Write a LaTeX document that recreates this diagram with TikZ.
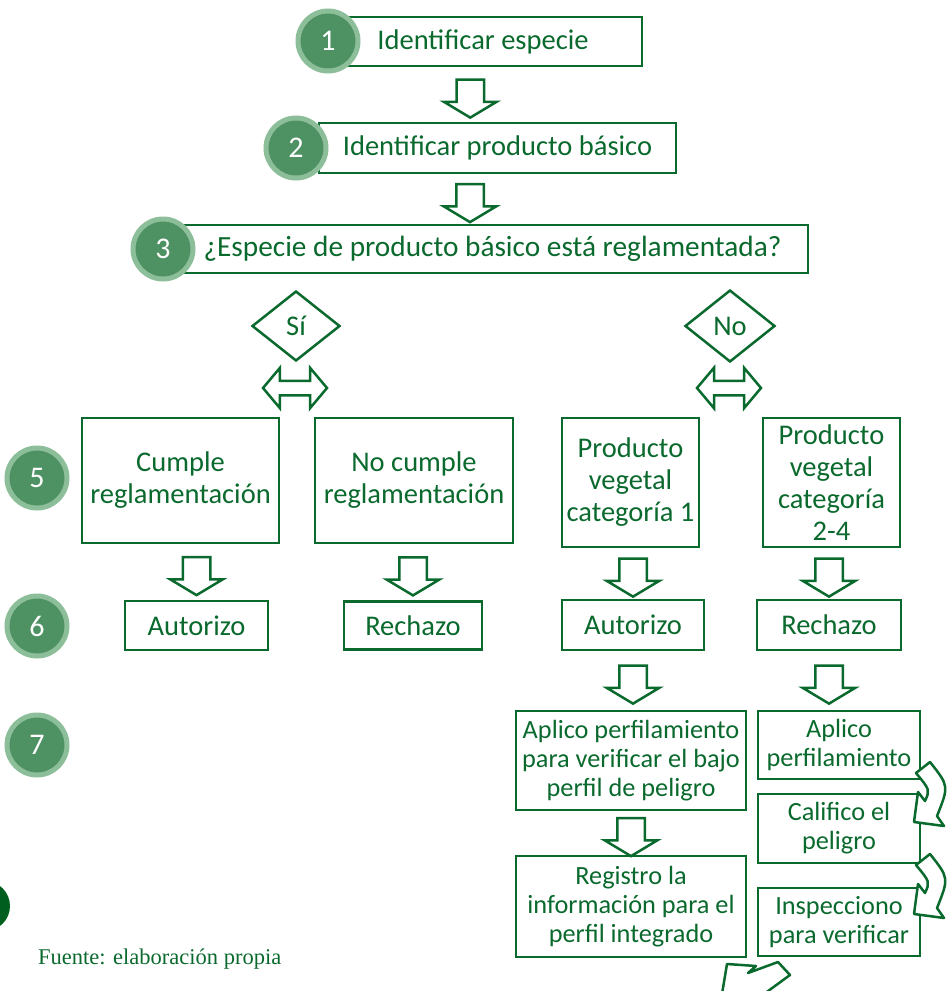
\documentclass[tikz,border=0pt]{standalone}
\usepackage{fontspec}
\setmainfont{Carlito}
\newfontfamily\fuentefont{Liberation Serif}
\usetikzlibrary{shapes.geometric,shapes.arrows,positioning,calc}
\definecolor{verde}{RGB}{10,105,45}
\definecolor{circfill}{RGB}{78,145,99}
\definecolor{circring}{RGB}{141,190,154}
\definecolor{verdeosc}{RGB}{0,95,30}
\tikzset
{
    paso/.style     = {rectangle, draw=verde, line width=2.5pt, text=verde, align=center, inner sep=0pt, font=\fontsize{28.5}{32}\selectfont},
    pasochico/.style= {paso, font=\fontsize{26.3}{29}\selectfont},
    numero/.style   = {circle, fill=circfill, draw=circring, line width=5pt, minimum size=60pt, inner sep=0pt, text=white, font=\fontsize{30}{30}\selectfont},
    decision/.style = {diamond, draw=verde, line width=2.5pt, text=verde, inner sep=0pt, minimum width=88pt, minimum height=70pt, font=\fontsize{28.5}{30}\selectfont},
    bajar/.style    = {single arrow, draw=verde, fill=white, line width=2.5pt, shape border rotate=270, inner sep=12.5pt, minimum height=38pt, minimum width=50pt, single arrow head extend=12.5pt, single arrow tip angle=118},
    ambos/.style    = {double arrow, draw=verde, fill=white, line width=2.5pt, inner sep=6pt, minimum height=64pt, minimum width=38pt, double arrow head extend=13pt, double arrow tip angle=100},
    curva/.pic      = {\draw[verde, fill=white, line width=2.5pt, line join=round] (-4,-6) -- (10,-17) .. controls (29,7) .. (17,37) -- (24,47) -- (-6,43) -- (-2,13) -- (5,22) .. controls (10,11) .. (-4,-6) -- cycle;}
}

\begin{document}
\begin{tikzpicture}[x=1pt, y=-1pt]
\useasboundingbox (0,0) rectangle (948,991);
% pasos superiores
\node[paso, minimum width=318pt, minimum height=49pt] (b1) at (483,41.5) {Identificar especie};
\node[paso, minimum width=357pt, minimum height=50pt] (b2) at (497.5,148) {Identificar producto básico};
\node[paso, minimum width=631pt, minimum height=48pt, font=\fontsize{29.3}{32}\selectfont] (b3) at (492.5,249) {¿Especie de producto básico está reglamentada?};
\node[numero] (c1) at (328,41) {1};
\node[numero] (c2) at (296,148) {2};
\node[numero] (c3) at (163,249) {3};
\node[bajar, xshift=-20pt] (a12) at ($(b1.south)!.5!(b2.north)$) {};
\node[bajar, xshift=-25pt] (a23) at ($(b2.south)!.5!(b3.north)$) {};
% decision
\node[decision] (si) at (296,326) {Sí};
\node[decision, minimum width=90pt, minimum height=72pt] (no) at (730,326) {No};
\node[ambos] (dsi) at (295,388) {};
\node[ambos] (dno) at (729,388) {};
% fila 5
\node[paso, minimum width=197pt, minimum height=125pt] (r5a) at (180.5,480.5) {Cumple\\reglamentación};
\node[paso, minimum width=198pt, minimum height=125pt] (r5b) at (414,480.5) {No cumple\\reglamentación};
\node[paso, minimum width=137pt, minimum height=129pt] (r5c) at (630.5,482.5) {Producto\\vegetal\\categoría 1};
\node[paso, minimum width=137pt, minimum height=129pt] (r5d) at (831.5,482.5) {Producto\\vegetal\\categoría\\2-4};
% fila 6
\node[paso, minimum width=143pt, minimum height=49pt] (r6a) at (196.5,625.5) {Autorizo};
\node[paso, minimum width=138pt, minimum height=48pt] (r6b) at (413,625.5) {Rechazo};
\node[paso, minimum width=142pt, minimum height=50pt] (r6c) at (633,625) {Autorizo};
\node[paso, minimum width=144pt, minimum height=50pt] (r6d) at (829,625) {Rechazo};
\node[bajar] (a5a) at ($(r5a.south -| r6a.north)!.5!(r6a.north)$) {};
\node[bajar] (a5b) at ($(r5b.south -| r6b.north)!.5!(r6b.north)$) {};
\node[bajar] (a5c) at ($(r5c.south -| r6c.north)!.5!(r6c.north)$) {};
\node[bajar] (a5d) at ($(r5d.south -| r6d.north)!.5!(r6d.north)$) {};
% fila 7 y siguientes
\node[pasochico, minimum width=230pt, minimum height=99pt] (r7a) at (631,760.5) {Aplico perfilamiento\\para verificar el bajo\\perfil de peligro};
\node[pasochico, minimum width=162pt, minimum height=68pt] (r7b) at (839,745) {Aplico\\perfilamiento};
\node[pasochico, minimum width=230pt, minimum height=101pt] (r8a) at (631,906.5) {Registro la\\información para el\\perfil integrado};
\node[pasochico, minimum width=162pt, minimum height=69pt] (r8b) at (839,828.5) {Califico el\\peligro};
\node[pasochico, minimum width=162pt, minimum height=68pt] (r9b) at (839,922) {Inspecciono\\para verificar};
\node[bajar] (a6c) at ($(r6c.south)!.5!(r6c.south |- r7a.north)$) {};
\node[bajar] (a6d) at ($(r6d.south)!.5!(r6d.south |- r7b.north)$) {};
\node[bajar] (a7a) at ($(r7a.south)!.5!(r8a.north)$) {};
\pic at (920,779) {curva};
\pic at (920,871) {curva};
\draw[verde, fill=white, line width=2.5pt, line join=round] (727,964) -- (756,966) -- (748,973) -- (778,962) -- (790,975) -- (764,994) -- (722,994) -- cycle;
% numeros
\node[numero] (c5) at (37,478) {5};
\node[numero] (c6) at (37,626) {6};
\node[numero] (c7) at (37,745) {7};
% pie
\fill[verdeosc] (-15,906) circle (25);
\node[text=verde, font=\fuentefont\fontsize{22.5}{24}\selectfont, anchor=base west, inner sep=0pt] (fuente) at (38,964) {Fuente: elaboración propia};
\end{tikzpicture}
\end{document}
